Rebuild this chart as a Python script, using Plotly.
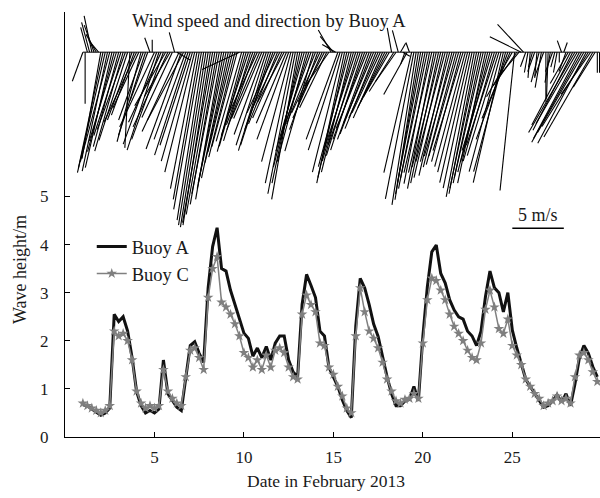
import numpy as np
import plotly.graph_objects as go

# ---------------- data ----------------
# wave heights, 6-hourly from Feb 1.00 to Feb 29.75 (day of month)
wave_start, wave_step = 1.0, 0.25
buoy_a = [
    0.67, 0.65, 0.58, 0.52,
    0.45, 0.50, 0.60, 2.55,
    2.40, 2.50, 2.20, 1.65,
    0.95, 0.65, 0.50, 0.55,
    0.50, 0.58, 1.60, 0.90,
    0.75, 0.62, 0.55, 1.20,
    1.90, 1.98, 1.74, 1.55,
    3.10, 3.96, 4.35, 3.50,
    3.45, 3.05, 2.75, 2.45,
    2.16, 2.05, 1.68, 1.85,
    1.65, 1.88, 1.60, 1.95,
    2.10, 2.10, 1.60, 1.35,
    1.25, 2.75, 3.38, 3.15,
    2.90, 2.20, 2.10, 1.45,
    1.25, 1.05, 0.77, 0.55,
    0.40, 2.30, 3.30, 3.10,
    2.75, 2.35, 2.09, 1.65,
    1.25, 0.90, 0.65, 0.65,
    0.75, 0.78, 1.05, 0.75,
    2.09, 3.12, 3.85, 3.99,
    3.40, 3.20, 2.85, 2.64,
    2.50, 2.45, 2.20, 2.10,
    1.90, 2.20, 2.92, 3.45,
    3.10, 3.00, 2.60, 3.00,
    2.22, 1.85, 1.55, 1.20,
    1.05, 0.90, 0.75, 0.62,
    0.65, 0.75, 0.88, 0.72,
    0.90, 0.65, 1.10, 1.65,
    1.90, 1.74, 1.46, 1.25,
]
buoy_c = [
    0.70, 0.65, 0.60, 0.55,
    0.50, 0.55, 0.65, 2.20,
    2.10, 2.15, 2.00, 1.60,
    0.95, 0.70, 0.60, 0.65,
    0.60, 0.65, 1.40, 0.95,
    0.80, 0.70, 0.65, 1.25,
    1.80, 1.85, 1.65, 1.40,
    2.90, 3.50, 3.75, 2.80,
    2.70, 2.55, 2.35, 2.10,
    1.75, 1.65, 1.45, 1.60,
    1.40, 1.70, 1.45, 1.80,
    1.85, 1.75, 1.45, 1.25,
    1.20, 2.55, 2.95, 2.75,
    2.60, 1.95, 1.90, 1.45,
    1.30, 1.05, 0.85, 0.60,
    0.50, 2.10, 3.10, 2.60,
    2.20, 2.05, 1.85, 1.55,
    1.20, 0.95, 0.75, 0.70,
    0.78, 0.80, 0.90, 0.80,
    1.95, 2.85, 3.30, 3.25,
    3.05, 2.85, 2.55, 2.30,
    2.15, 2.00, 1.80, 1.65,
    1.60, 1.95, 2.65, 3.05,
    2.70, 2.25, 2.15, 2.45,
    1.90, 1.70, 1.50, 1.20,
    1.05, 0.90, 0.80, 0.65,
    0.70, 0.75, 0.85, 0.75,
    0.80, 0.70, 1.25, 1.70,
    1.75, 1.60, 1.35, 1.15,
]

# wind at Buoy A, 3-hourly from Feb 1.000 to Feb 29.875
wind_start, wind_step = 1.0, 0.125
wind_speed = [  # m/s
    3.0, 5.0, 2.5, 3.0, 3.6, 2.8, 2.0, 1.5,
    10.5, 11.5, 12.0, 11.8, 11.0, 11.5, 10.0, 9.0,
    9.5, 8.5, 10.0, 8.0, 9.0, 9.3, 7.0, 6.5,
    7.5, 6.0, 9.0, 7.0, 8.5, 5.0, 1.5, 1.2,
    8.0, 9.5, 10.0, 7.5, 9.0, 6.0, 8.0, 5.0,
    7.0, 2.0, 1.5, 8.5, 10.0, 7.5, 9.0, 10.5,
    9.5, 11.0, 12.0, 13.5, 14.5, 15.5, 16.5, 17.0,
    17.2, 17.0, 16.8, 16.0, 15.0, 14.0, 14.5, 13.5,
    13.0, 12.5, 11.0, 10.0, 10.5, 9.5, 4.0, 9.0,
    10.0, 9.5, 8.5, 9.0, 7.5, 8.0, 6.5, 7.0,
    7.0, 8.5, 9.5, 10.0, 9.5, 8.0, 6.5, 7.5,
    6.0, 7.0, 5.5, 7.5, 9.0, 11.0, 13.0, 14.0,
    14.5, 13.0, 11.5, 10.0, 11.0, 9.0, 8.0, 10.0,
    7.5, 8.0, 6.5, 7.0, 5.5, 6.0, 4.0, 2.5,
    2.0, 1.5, 9.0, 10.0, 12.0, 13.0, 12.5, 11.5,
    12.0, 11.0, 10.0, 10.5, 9.5, 10.0, 9.0, 8.0,
    9.0, 8.5, 7.5, 8.0, 7.0, 6.5, 7.0, 6.0,
    5.5, 5.0, 2.4, 4.5, 3.5, 2.2, 1.0, 0.8,
    1.2, 4.7, 1.0, 12.0, 14.5, 15.0, 14.5, 14.0,
    13.0, 13.5, 12.5, 13.0, 12.0, 13.5, 12.0, 13.0,
    11.5, 12.5, 11.0, 12.3, 11.0, 11.5, 10.5, 11.3,
    10.5, 11.0, 10.0, 11.5, 12.0, 13.0, 13.5, 14.3,
    14.0, 13.5, 13.0, 12.5, 13.0, 12.0, 11.0, 10.0,
    11.0, 9.5, 10.5, 12.0, 13.0, 12.0, 9.0, 7.0,
    5.0, 13.5, 4.0, 3.0, 3.4, 3.7, 1.5, 2.0,
    2.5, 1.5, 2.0, 2.5, 3.0, 3.5, 2.5, 4.8,
    4.5, 3.0, 2.0, 1.5, 2.0, 1.0, 1.2, 1.0,
    2.0, 3.5, 8.0, 8.5, 9.0, 8.0, 9.5, 10.0,
    9.0, 10.0, 8.5, 5.0, 9.5, 4.0, 2.0, 2.0,
]
wind_dir = [  # degrees clockwise from north, direction the stick points to
    200, 180, 345, 345, 348, 340, 330, 320,
    190, 192, 193, 192, 195, 193, 195, 197,
    195, 198, 196, 200, 198, 183, 200, 200,
    205, 205, 195, 200, 198, 200, 340, 0,
    205, 200, 198, 205, 200, 210, 205, 210,
    205, 345, 120, 205, 200, 208, 200, 198,
    198, 196, 194, 191, 190, 190, 189, 189,
    189, 189, 190, 190, 190, 191, 190, 191,
    192, 192, 193, 194, 194, 195, 245, 196,
    195, 196, 198, 197, 200, 200, 205, 203,
    203, 200, 198, 197, 198, 200, 205, 202,
    206, 204, 208, 203, 200, 195, 192, 191,
    190, 192, 194, 196, 195, 198, 200, 196,
    202, 200, 205, 204, 208, 206, 215, 330,
    320, 300, 200, 198, 194, 192, 193, 195,
    194, 196, 198, 197, 199, 198, 200, 202,
    200, 201, 203, 202, 204, 205, 204, 206,
    208, 210, 350, 212, 215, 345, 30, 120,
    200, 209, 340, 193, 191, 189, 189, 190,
    191, 191, 192, 191, 193, 191, 193, 192,
    194, 193, 195, 193, 195, 194, 196, 195,
    196, 195, 197, 195, 194, 193, 192, 191,
    191, 192, 192, 193, 192, 194, 195, 197,
    196, 198, 197, 195, 193, 195, 200, 203,
    210, 186, 215, 220, 296, 317, 200, 190,
    185, 195, 200, 185, 195, 190, 200, 180,
    182, 190, 200, 195, 190, 180, 340, 20,
    200, 210, 208, 207, 210, 210, 208, 209,
    210, 208, 212, 215, 210, 212, 180, 180,
]
x_ticks = [5, 10, 15, 20, 25]
y_ticks = [0, 1, 2, 3, 4, 5]
scale_speed = 5  # m/s reference arrow

wave_days = [wave_start + wave_step * i for i in range(len(buoy_a))]
wind_days = [wind_start + wind_step * i for i in range(len(wind_speed))]

# ---------------- layout geometry ----------------
W, H = 600, 498
ml, mr, mt, mb = 65, 0, 12, 61
x_range = [0, 29.9]
y_range = [0, 8.836]
px_day = (W - ml - mr) / (x_range[1] - x_range[0])
px_unit = (H - mt - mb) / (y_range[1] - y_range[0])
px_per_ms = 10.3
base_y = 8.0

sx, sy = [], []
for t, s, d in zip(wind_days, wind_speed, wind_dir):
    r = np.deg2rad(d)
    sx += [t, t + s * np.sin(r) * px_per_ms / px_day, None]
    sy += [base_y, base_y + s * np.cos(r) * px_per_ms / px_unit, None]

serif = "Liberation Serif, Times New Roman, serif"
tc = "#1a1a1a"

fig = go.Figure()
fig.add_trace(go.Scatter(x=[wind_days[0], wind_days[-1]], y=[base_y, base_y], mode="lines",
                         line=dict(color="#555555", width=1.5), showlegend=False, hoverinfo="skip"))
fig.add_trace(go.Scatter(x=sx, y=sy, mode="lines", line=dict(color="black", width=1.1),
                         showlegend=False, hoverinfo="skip"))
fig.add_trace(go.Scatter(x=wave_days, y=buoy_a, mode="lines", name="Buoy A",
                         line=dict(color="#111111", width=3)))
fig.add_trace(go.Scatter(x=wave_days, y=buoy_c, mode="lines+markers", name="Buoy C",
                         line=dict(color="#808080", width=1.5),
                         marker=dict(symbol="star", size=8, color="#7f7f7f")))

# 5 m/s scale bar
bar_x0 = 25.0
bar_y = 4.34
fig.add_trace(go.Scatter(x=[bar_x0, bar_x0 + scale_speed * px_per_ms / px_day], y=[bar_y, bar_y],
                         mode="lines", line=dict(color="black", width=1.3),
                         showlegend=False, hoverinfo="skip"))
fig.add_annotation(x=bar_x0 + scale_speed * px_per_ms / px_day / 2, y=bar_y, yshift=13,
                   text=f"{scale_speed} m/s", showarrow=False,
                   font=dict(family=serif, size=18, color=tc))
fig.add_annotation(x=(269 - ml) / (W - ml - mr), y=(437 - 21) / (H - mt - mb),
                   xref="paper", yref="paper", xanchor="center", yanchor="middle",
                   text="Wind speed and direction by Buoy A", showarrow=False,
                   font=dict(family=serif, size=18.5, color=tc))
fig.add_annotation(x=(326 - ml) / (W - ml - mr), y=(437 - 481) / (H - mt - mb),
                   xref="paper", yref="paper", xanchor="center", yanchor="middle",
                   text="Date in February 2013", showarrow=False,
                   font=dict(family=serif, size=17.5, color=tc))
fig.add_annotation(x=(20 - ml) / (W - ml - mr), y=(437 - 270) / (H - mt - mb),
                   xref="paper", yref="paper", xanchor="center", yanchor="middle",
                   textangle=-90, text="Wave height/m", showarrow=False,
                   font=dict(family=serif, size=18, color=tc))

fig.update_layout(
    width=W, height=H, margin=dict(l=ml, r=mr, t=mt, b=mb),
    plot_bgcolor="white", paper_bgcolor="white",
    font=dict(family=serif, size=17, color=tc),
    showlegend=True,
    legend=dict(x=0.05, y=0.492, xanchor="left", yanchor="top", bgcolor="rgba(0,0,0,0)",
                font=dict(family=serif, size=18.5, color=tc), tracegroupgap=0, itemwidth=30),
    xaxis=dict(range=x_range, tickvals=x_ticks, ticks="inside", ticklen=5, tickcolor="black",
               showline=True, linecolor="black", linewidth=1, showgrid=False, zeroline=False,
               ticklabelstandoff=5, tickfont=dict(family=serif, size=17, color=tc)),
    yaxis=dict(range=y_range, tickvals=y_ticks + [y_range[1] - 0.01],
               ticktext=[str(v) for v in y_ticks] + [""],
               ticks="inside", ticklen=5, tickcolor="black",
               showline=True, linecolor="black", linewidth=1, showgrid=False, zeroline=False,
               ticklabelstandoff=12, tickfont=dict(family=serif, size=17, color=tc)),
)
fig.write_html("out.html")
